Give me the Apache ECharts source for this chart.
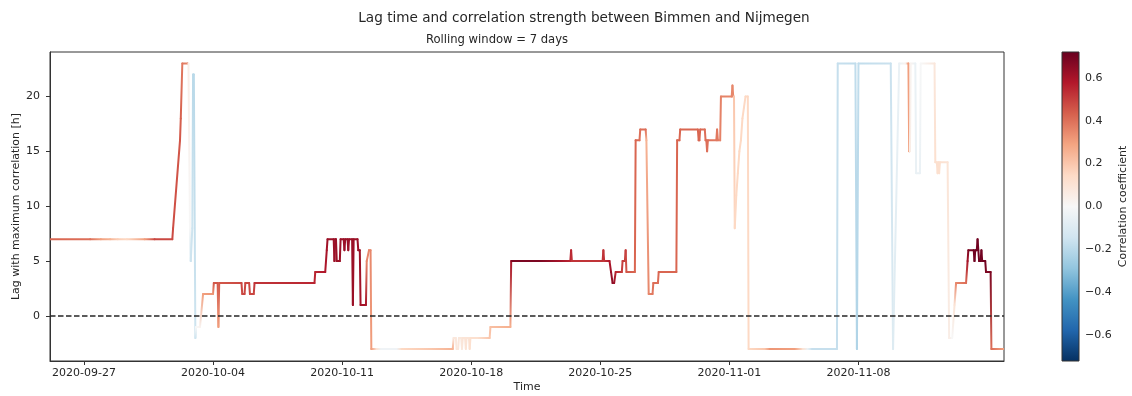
<!DOCTYPE html>
<html><head><meta charset="utf-8">
<script src="https://cdn.jsdelivr.net/npm/echarts@6/dist/echarts.min.js"></script>
<style>html,body{margin:0;padding:0;background:#fff}#c{width:1132px;height:396px}</style>
</head><body><div id="c"></div>
<script>
// ---- data ----
// time of each reading, in hours since 2020-09-25 00:00
const hours = [4,56,70,82,92,104,127,140,163,164,173,174,176,183,184,186,187,189,190,191,193,194,199,
  203,216,217,222,223,224,253,254,257,258,263,264,269,270,348,349,362,364,365,373,374,375,376,377,381,382,
  386,387,388,391,392,393,397,398,399,404,405,407,408,415,416,419,421,422,429,435,455,462,500,528,
  529,532,533,535,536,539,540,541,544,545,546,549,550,551,560,576,577,603,604,605,640,668,681,682,683,
  723,724,725,732,734,736,738,740,748,749,752,753,754,765,766,771,772,779,780,783,788,789,795,796,
  819,820,823,824,847,848,849,850,856,857,858,859,860,871,872,873,876,877,891,892,893,894,
  895,897,899,901,903,905,907,909,912,913,934,941,973,984,990,996,1028,1029,1052,1054,1056,1098,
  1101,1109,1117,1121,1122,1123,1124,1130,1131,1136,1137,1155,1156,1158,1159,1160,1161,1162,1172,
  1174,1178,1181,1183,1196,1198,1199,1206,1207,1208,1210,1211,1212,1213,1215,1216,1217,1221,1222,1228,1229,1245];
// lag with maximum correlation [h]
const lags = [7,7,7,7,7,7,7,7,7,8,16,18,23,23,23,8,5,8,22,22,-2,-1,-1,
  2,2,3,3,-1,3,3,2,2,3,3,2,2,3,3,4,4,6,7,7,5,7,7,5,5,7,
  7,6,7,7,6,7,7,1,7,7,6,6,1,1,5,6,6,-3,-3,-3,-3,-3,-3,-3,
  -2,-2,-3,-3,-2,-2,-3,-2,-2,-3,-2,-2,-3,-2,-2,-2,-1,-1,5,5,5,5,5,6,5,
  5,6,5,5,4,3,3,4,4,5,5,6,4,4,16,16,17,17,16,2,2,3,3,4,
  4,16,16,17,17,16,16,17,17,16,16,15,16,16,17,16,16,20,20,21,20,20,
  8,11,13,15,16,18,19,20,20,-3,-3,-3,-3,-3,-3,-3,-3,23,23,-3,23,23,
  -3,23,23,23,15,15,23,23,13,13,23,23,14,14,13,14,13,14,14,
  -2,-2,1,3,3,5,6,6,5,6,6,7,6,5,5,6,5,5,4,4,-3,-3];
// correlation coefficient at each reading
const corrs = [0.42,0.40,0.3,0.25,0.18,0.15,0.30,0.48,0.48,0.47,0.45,0.43,0.38,0.35,0.05,0.0,-0.15,-0.15,-0.2,-0.2,-0.15,0.0,0.02,
  0.30,0.32,0.45,0.45,0.30,0.45,0.48,0.48,0.48,0.48,0.48,0.48,0.48,0.52,0.55,0.55,0.58,0.6,0.62,0.62,0.62,0.62,0.62,0.62,0.62,0.62,
  0.62,0.62,0.62,0.62,0.62,0.62,0.62,0.62,0.62,0.62,0.62,0.62,0.6,0.6,0.35,0.35,0.35,0.3,0.1,-0.03,-0.03,0.15,0.2,0.25,
  0.08,0.08,0.08,0.08,0.08,0.08,0.08,0.1,0.1,0.1,0.1,0.1,0.12,0.12,0.12,0.2,0.22,0.26,0.6,0.68,0.68,0.6,0.55,0.55,0.52,
  0.52,0.52,0.52,0.58,0.62,0.65,0.62,0.55,0.5,0.5,0.5,0.5,0.45,0.42,0.42,0.4,0.4,0.4,0.25,0.35,0.38,0.4,0.4,0.42,
  0.42,0.42,0.42,0.42,0.42,0.42,0.42,0.42,0.4,0.4,0.4,0.4,0.4,0.38,0.38,0.38,0.36,0.36,0.35,0.35,0.35,0.2,
  0.15,0.15,0.15,0.15,0.15,0.15,0.15,0.15,0.15,0.15,0.2,0.32,0.3,0.1,-0.05,-0.17,-0.17,-0.17,-0.18,-0.22,-0.18,-0.16,
  -0.1,-0.05,0.02,0.3,0.3,0.05,0.02,-0.05,-0.05,-0.05,0.0,0.08,0.12,0.12,0.12,0.12,0.12,0.12,0.1,
  0.05,0.0,0.1,0.35,0.4,0.6,0.68,0.7,0.7,0.7,0.7,0.7,0.7,0.7,0.7,0.7,0.7,0.7,0.68,0.68,0.4,0.3];

const xTickDates = ['2020-09-27','2020-10-04','2020-10-11','2020-10-18','2020-10-25','2020-11-01','2020-11-08'];
const yTicks = [0, 5, 10, 15, 20];
const cbTicks = [-0.6, -0.4, -0.2, 0.0, 0.2, 0.4, 0.6];
const corrRange = [-0.72, 0.72];
const lagRange = [-4.1, 24.05];
const timeRangeHours = [3.8, 1245.4];
const RdBu_r = ['#053061','#2166ac','#4393c3','#92c5de','#d1e5f0','#f7f7f7','#fddbc7','#f4a582','#d6604d','#b2182b','#67001f'];

// ---- helpers ----
const T0 = new Date(2020, 8, 25, 0, 0, 0).getTime();
const ts = h => T0 + h * 3600000;
const dateTs = s => { const p = s.split('-').map(Number); return new Date(p[0], p[1]-1, p[2]).getTime(); };
const pad = n => (n < 10 ? '0' : '') + n;
const hex2rgb = h => [parseInt(h.slice(1,3),16), parseInt(h.slice(3,5),16), parseInt(h.slice(5,7),16)];
const cmapRGB = RdBu_r.map(hex2rgb);
function cmap(c) {
  let t = (c - corrRange[0]) / (corrRange[1] - corrRange[0]);
  t = Math.max(0, Math.min(1, t)) * (cmapRGB.length - 1);
  const i = Math.min(cmapRGB.length - 2, Math.floor(t)), f = t - i;
  const a = cmapRGB[i], b = cmapRGB[i+1];
  return 'rgb(' + [0,1,2].map(k => Math.round(a[k] + (b[k]-a[k]) * f)).join(',') + ')';
}

const segs = [];
for (let i = 0; i < hours.length - 1; i++) {
  segs.push([ts(hours[i]), lags[i], ts(hours[i+1]), lags[i+1], corrs[i], corrs[i+1]]);
}
const xTickTs = xTickDates.map(dateTs);

const FONT = 'DejaVu Sans';
const TXT = '#262626';
const chart = echarts.init(document.getElementById('c'), null, {renderer: 'canvas'});
chart.setOption({
  animation: false,
  backgroundColor: '#fff',
  textStyle: {fontFamily: FONT},
  graphic: [
    {type: 'text', x: 584, y: 18, style: {text: 'Lag time and correlation strength between Bimmen and Nijmegen',
      fontFamily: FONT, fontSize: 13.6, fill: TXT, align: 'center', verticalAlign: 'middle'}},
    {type: 'text', x: 497, y: 40, style: {text: 'Rolling window = 7 days',
      fontFamily: FONT, fontSize: 11.6, fill: TXT, align: 'center', verticalAlign: 'middle'}}
  ],
  grid: [
    {left: 50, top: 52, width: 954, height: 309, show: true, borderColor: '#333', borderWidth: 1,
      backgroundColor: 'transparent', containLabel: false, outerBoundsMode: 'none'},
    {left: 1062, top: 52, width: 17, height: 309, show: false, containLabel: false, outerBoundsMode: 'none'}
  ],
  xAxis: [
    {type: 'value', gridIndex: 0, min: ts(timeRangeHours[0]), max: ts(timeRangeHours[1]),
      name: 'Time', nameLocation: 'middle', nameGap: 21, nameMoveOverlap: false,
      nameTextStyle: {fontFamily: FONT, fontSize: 11, color: TXT},
      axisLine: {show: true, onZero: false, lineStyle: {color: '#333'}},
      axisTick: {show: true, inside: false, length: 4, lineStyle: {color: '#333'}, customValues: xTickTs},
      axisLabel: {show: true, margin: 7, fontFamily: FONT, fontSize: 11, color: TXT,
        customValues: xTickTs,
        formatter: v => { const d = new Date(v); return d.getFullYear() + '-' + pad(d.getMonth()+1) + '-' + pad(d.getDate()); }},
      splitLine: {show: false}},
    {type: 'value', gridIndex: 1, min: 0, max: 1, show: false}
  ],
  yAxis: [
    {type: 'value', gridIndex: 0, min: lagRange[0], max: lagRange[1],
      name: 'Lag with maximum correlation [h]', nameLocation: 'middle', nameGap: 28, nameRotate: 90, nameMoveOverlap: false,
      nameTextStyle: {fontFamily: FONT, fontSize: 11, color: TXT},
      axisLine: {show: true, onZero: false, lineStyle: {color: '#333'}},
      axisTick: {show: true, length: 4, lineStyle: {color: '#333'}, customValues: yTicks},
      axisLabel: {margin: 10, fontFamily: FONT, fontSize: 11, color: TXT, customValues: yTicks},
      splitLine: {show: false}},
    {type: 'value', gridIndex: 1, min: corrRange[0], max: corrRange[1], position: 'right',
      name: 'Correlation coefficient', nameLocation: 'middle', nameGap: 39, nameRotate: 90, nameMoveOverlap: false,
      nameTextStyle: {fontFamily: FONT, fontSize: 11, color: TXT},
      axisLine: {show: false},
      axisTick: {show: true, length: 4, lineStyle: {color: '#333'}, customValues: cbTicks},
      axisLabel: {margin: 6, fontFamily: FONT, fontSize: 11, color: TXT, customValues: cbTicks,
        formatter: v => (v < -1e-9 ? '\u2212' : '') + Math.abs(v).toFixed(1)},
      splitLine: {show: false}}
  ],
  series: [
    {
      type: 'custom', xAxisIndex: 0, yAxisIndex: 0, clip: true,
      dimensions: ['t0', 'lag0', 't1', 'lag1', 'c0', 'c1'],
      encode: {x: [0, 2], y: [1, 3]},
      data: segs,
      renderItem: (params, api) => {
        const p0 = api.coord([api.value(0), api.value(1)]);
        const p1 = api.coord([api.value(2), api.value(3)]);
        const c0 = cmap(api.value(4)), c1 = cmap(api.value(5));
        let stroke = c0;
        if (c0 !== c1 && (Math.abs(p0[0]-p1[0]) + Math.abs(p0[1]-p1[1])) > 0.01) {
          stroke = new echarts.graphic.LinearGradient(p0[0], p0[1], p1[0], p1[1],
            [{offset: 0, color: c0}, {offset: 1, color: c1}], true);
        }
        return {type: 'line', shape: {x1: p0[0], y1: p0[1], x2: p1[0], y2: p1[1]},
          style: {stroke: stroke, lineWidth: 2, lineCap: 'round', lineJoin: 'round'}};
      },
      markLine: {silent: true, symbol: 'none', label: {show: false}, animation: false,
        lineStyle: {type: [5.5, 2.5], color: '#262626', width: 1.6},
        emphasis: {disabled: true},
        data: [{yAxis: 0}]}
    },
    {
      type: 'custom', xAxisIndex: 1, yAxisIndex: 1, clip: false,
      data: [[0, 0]],
      renderItem: (params, api) => {
        const a = api.coord([0, corrRange[1]]), b = api.coord([1, corrRange[0]]);
        const stops = RdBu_r.slice().reverse().map((c, i, arr) => ({offset: i / (arr.length - 1), color: c}));
        return {type: 'rect', shape: {x: a[0], y: a[1], width: b[0]-a[0], height: b[1]-a[1]},
          style: {fill: new echarts.graphic.LinearGradient(0, 0, 0, 1, stops), stroke: '#333', lineWidth: 1}};
      }
    }
  ]
});
</script>
</body></html>
